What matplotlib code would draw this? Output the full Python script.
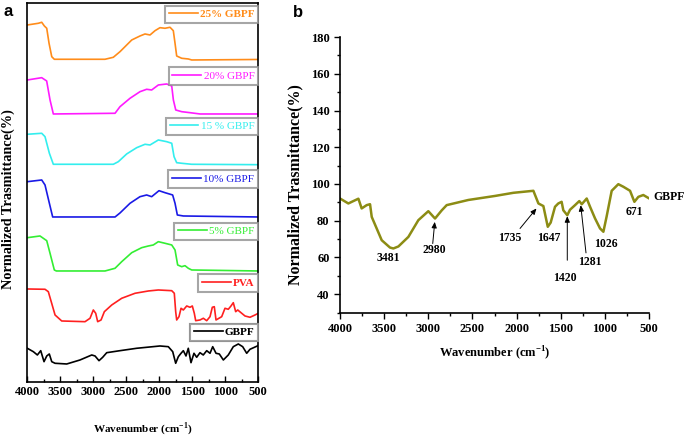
import matplotlib
matplotlib.use("Agg")
import matplotlib.pyplot as plt
from matplotlib.lines import Line2D
from matplotlib.ticker import MultipleLocator

SERIF = ["Liberation Serif", "DejaVu Serif"]
plt.rcParams["font.family"] = SERIF
plt.rcParams["font.weight"] = "bold"

# ---- panel a: stacked, offset spectra (values in offset units) ----
wn_25 = [4000, 3833, 3782, 3742, 3706, 3671, 3630, 3591, 2823, 2697, 2596, 2520, 2418, 2293,
         2217, 2141, 2065, 1990, 1914, 1838, 1788, 1762, 1737, 1661, 1560, 1509, 500]
t_25 = [358, 359.7, 360.7, 357, 354.7, 339.7, 326.3, 323.7, 323.7, 325.7, 331.3, 336.3, 343, 347,
        349, 348, 352.3, 355.3, 354.7, 355.7, 352.3, 339.7, 327, 324.7, 324, 323, 323.5]

wn_20 = [4000, 3782, 3707, 3656, 3606, 2671, 2596, 2444, 2293, 2192, 2116, 2015, 1888, 1812,
         1787, 1751, 1661, 1535, 1383, 500]
t_20 = [303, 305.3, 302, 283, 269, 269.7, 276.3, 284.7, 291.3, 293.7, 293, 298, 299, 297,
        283, 273, 271.3, 270.3, 269, 269]

wn_15 = [4000, 3782, 3732, 3666, 3606, 2697, 2621, 2495, 2343, 2217, 2141, 2015, 1888, 1812,
         1777, 1737, 1661, 1510, 500]
t_15 = [248.7, 249.7, 246.3, 229.7, 218.7, 218.7, 221.3, 229, 235.3, 238.7, 238, 243, 241.3, 239.7,
        226.3, 220.3, 219.7, 218.7, 218.3]

wn_10 = [4000, 3782, 3732, 3666, 3616, 2671, 2596, 2444, 2293, 2192, 2116, 2005, 1914, 1798,
         1762, 1727, 1636, 500]
t_10 = [201.3, 203, 198, 179.7, 166, 166, 170, 179.7, 186.3, 188, 186.3, 192.3, 190.3, 188,
        179.7, 168, 167, 166]

wn_5 = [4000, 3808, 3706, 3656, 3591, 3560, 2823, 2671, 2570, 2418, 2267, 2166, 2091, 2015,
        1914, 1812, 1762, 1722, 1661, 1611, 1561, 1509, 500]
t_5 = [145.3, 147, 142.3, 129.7, 113, 112, 112, 114.7, 121.3, 130.3, 135.3, 137, 138, 141.3,
       139.7, 138, 133, 118, 116.3, 117.3, 114.7, 113, 112]

wn_pva = [4000, 3732, 3682, 3631, 3580, 3479, 3126, 3050, 3000, 2964, 2934, 2883, 2833, 2721,
          2570, 2368, 2166, 2015, 1812, 1773, 1752, 1737, 1702, 1671, 1636, 1585, 1535, 1500,
          1470, 1449, 1384, 1333, 1282, 1232, 1197, 1167, 1141, 1055, 1005, 955, 914, 879,
          843, 812, 702, 626, 550, 500]
t_pva = [94, 93.7, 91.3, 79.7, 68, 62, 61.3, 64.7, 73, 69.7, 61.3, 63, 71.3, 78,
         84.7, 89.7, 92, 93, 92.3, 89.7, 71.3, 63, 66.3, 74.7, 73, 77, 75.7, 77,
         69.7, 62.3, 63, 64.7, 62.3, 66.3, 75.7, 76.3, 63, 66.3, 74.7, 73.7, 77, 80.3,
         71.3, 73, 67, 65.7, 68, 69.7]

wn_gb = [4000, 3909, 3848, 3797, 3747, 3706, 3667, 3630, 3580, 3403, 3202, 3024, 2974, 2914,
         2858, 2797, 2596, 2343, 1990, 1864, 1797, 1752, 1712, 1671, 1636, 1596, 1561, 1520,
         1475, 1434, 1384, 1334, 1282, 1232, 1191, 1141, 1091, 1030, 955, 879, 803, 737,
         676, 626, 515, 500]
t_gb = [34.7, 31.3, 28, 32.3, 21.3, 27, 29, 21.3, 19.7, 19, 23, 28, 27, 22.3,
        25.7, 30.3, 32.3, 34.7, 37, 36.3, 31.3, 19.7, 26.3, 29.7, 32.3, 27, 34.7, 20.3,
        29.7, 25.7, 30.3, 28, 32.3, 29.7, 36.3, 29.7, 29, 23, 28, 36.3, 39, 36.3,
        29.7, 33.7, 37, 37.5]

labels_a = ["25% GBPF", "20% GBPF", "15 % GBPF", "10% GBPF", "5% GBPF", "PVA", "GBPF"]
colors_a = ["#ff8c1a", "#ff1aff", "#33eeee", "#1a1ae6", "#33ee33", "#ff2020", "#000000"]
bold_a = [True, False, False, False, False, True, True]
legend_y = [368.5, 307, 256.5, 204, 151.5, 100, 50.5]

# ---- panel b: GBPF spectrum ----
wn_b = [4000, 3906, 3849, 3792, 3755, 3698, 3660, 3641, 3585, 3528, 3434, 3396, 3339, 3226,
        3113, 3000, 2924, 2849, 2792, 2547, 2244, 2037, 1810, 1753, 1697, 1647, 1614, 1565,
        1528, 1490, 1471, 1426, 1395, 1338, 1290, 1262, 1206, 1168, 1112, 1055, 1017, 980,
        923, 848, 791, 715, 666, 621, 565, 497]
t_b = [92.1, 89.4, 90.7, 92, 86.7, 88.5, 89, 82.1, 75.8, 69.4, 65.4, 64.9, 66, 71.2,
       80.3, 85.2, 81.2, 85.6, 88.5, 91.3, 93.5, 95.2, 96.3, 89.4, 88, 76.7, 79, 87.6,
       89.4, 90.3, 85.7, 83, 86, 88.5, 90.7, 89, 92.1, 87.6, 81.3, 75.8, 74, 82.4,
       96.3, 99.9, 98.5, 96.3, 90.3, 93, 94, 92.1]

peak_text = ["3481", "2980", "1735", "1647", "1420", "1281", "1026", "671"]
peak_pos = [(3453, 59.5), (2935, 64), (2074, 70.4), (1640, 70.7), (1450, 48.9),
            (1168, 57.6), (987, 67.6), (670, 84.9)]
arrows = [((2950, 67.6), (2927, 79.4)), ((1961, 75.8), (1775, 86.7)),
          ((1426, 58.5), (1426, 82.5)), ((1214, 62.5), (1274, 88.5))]


def plot_panel_a(ax):
    series = [(wn_25, t_25), (wn_20, t_20), (wn_15, t_15), (wn_10, t_10),
              (wn_5, t_5), (wn_pva, t_pva), (wn_gb, t_gb)]
    for (w, t), c in zip(series, colors_a):
        ax.plot(w, t, color=c, lw=1.2)
    ax.set_xlim(4000, 500)
    ax.set_ylim(1, 380)
    ax.set_yticks([])
    ax.xaxis.set_major_locator(MultipleLocator(500))
    ax.xaxis.set_minor_locator(MultipleLocator(250))
    ax.tick_params(axis="x", which="major", direction="in", length=4, width=1, labelsize=9, pad=3)
    ax.tick_params(axis="x", which="minor", direction="in", length=2, width=1)
    for s in ax.spines.values():
        s.set_linewidth(1.2)
    for lab, c, b, y in zip(labels_a, colors_a, bold_a, legend_y):
        h = Line2D([], [], color=c, lw=1.2)
        leg = ax.legend(handles=[h], labels=[lab], loc="center right",
                        bbox_to_anchor=(1.0, (y - 1) / 379), frameon=True, fancybox=False,
                        handlelength=2.6, handletextpad=0.2, borderpad=0.35, borderaxespad=0,
                        prop={"family": SERIF, "size": 8, "weight": "bold" if b else "normal"},
                        labelcolor=c)
        leg.get_frame().set_edgecolor("#909090")
        leg.get_frame().set_linewidth(1.5)
        ax.add_artist(leg)
    ax.set_xlabel("Wavenumber (cm$^{\\mathbf{-1}}$)", fontsize=8, fontweight="bold")
    ax.set_ylabel("Normalized Trasmittance(%)", fontsize=10.3, fontweight="bold")
    ax.xaxis.set_label_coords(0.5, -0.1)
    ax.yaxis.set_label_coords(-0.055, 0.483)


def plot_panel_b(ax):
    ax.plot(wn_b, t_b, color="#8c8c14", lw=1.8)
    ax.set_xlim(4000, 500)
    ax.set_ylim(30, 180)
    ax.spines["top"].set_visible(False)
    ax.spines["right"].set_visible(False)
    for s in ("left", "bottom"):
        ax.spines[s].set_linewidth(1.2)
    ax.xaxis.set_major_locator(MultipleLocator(500))
    ax.xaxis.set_minor_locator(MultipleLocator(250))
    ax.set_yticks(range(40, 181, 20))
    ax.yaxis.set_minor_locator(MultipleLocator(10))
    ax.tick_params(which="major", direction="out", length=4, width=1, labelsize=9)
    ax.tick_params(which="minor", direction="out", length=2.5, width=1)
    for txt, (x, y) in zip(peak_text, peak_pos):
        ax.text(x, y, txt, ha="center", va="center", fontsize=8.5, fontweight="bold")
    for tail, tip in arrows:
        ax.annotate("", xy=tip, xytext=tail,
                    arrowprops=dict(arrowstyle="-|>,head_length=0.35,head_width=0.15",
                                    color="k", lw=0.7, shrinkA=0, shrinkB=0))
    ax.text(451, 93, "GBPF", ha="left", va="center", fontsize=8.5, fontweight="bold",
            clip_on=False)
    ax.set_xlabel("Wavenumber (cm$^{\\mathbf{-1}}$)", fontsize=9, fontweight="bold")
    ax.set_ylabel("Normalized Trasmittance(%)", fontsize=11.5, fontweight="bold")
    ax.xaxis.set_label_coords(0.5, -0.115)
    ax.yaxis.set_label_coords(-0.12, 0.463)


if __name__ == "__main__":
    plt.rcParams["mathtext.fontset"] = "custom"
    plt.rcParams["mathtext.rm"] = "Liberation Serif:bold"
    plt.rcParams["mathtext.bf"] = "Liberation Serif:bold"
    fig = plt.figure(figsize=(6.85, 4.38), dpi=100)
    ax_a = fig.add_axes([0.0399, 0.1279, 0.3372, 0.8653])
    ax_b = fig.add_axes([0.4964, 0.2863, 0.4511, 0.6292])
    plot_panel_a(ax_a)
    plot_panel_b(ax_b)
    fig.text(4 / 685, 1 - 16 / 438, "a", fontsize=12, fontweight="bold", family="Liberation Sans")
    fig.text(293 / 685, 1 - 17 / 438, "b", fontsize=12, fontweight="bold", family="Liberation Sans")
    fig.savefig("out.png", dpi=100)
